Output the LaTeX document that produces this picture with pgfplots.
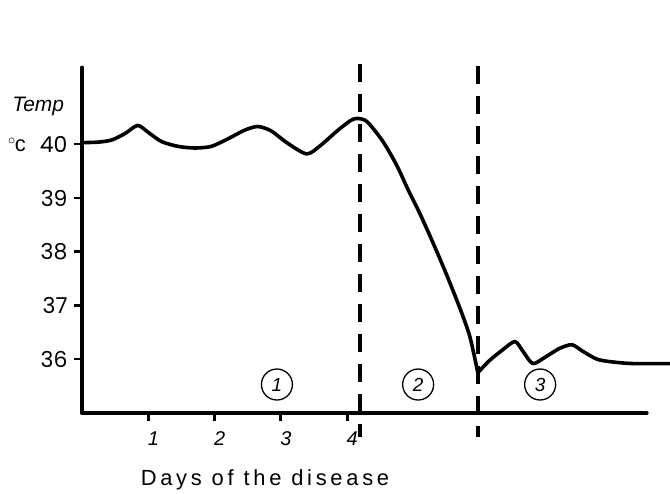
\documentclass[border=0pt]{standalone}
\usepackage{pgfplots}
\pgfplotsset{compat=1.18}
\usepackage{fontspec}
\setmainfont{Liberation Sans}
\newfontfamily\tickfont{Poppins}
\newfontfamily\spacedfont[LetterSpace=17]{Liberation Sans}
\begin{document}
\begin{tikzpicture}
\useasboundingbox (-82bp,-81bp) rectangle (588bp,413bp);
\begin{axis}[
  at={(0,0)}, anchor=south west,
  x=66.3bp, y=53.75bp,
  xmin=0, xmax=8.52, ymin=35, ymax=41.43,
  clip=false,
  axis lines=left,
  axis line style={-, line width=3.5bp, line cap=round},
  ytick={36,37,38,39,40},
  yticklabels={36,37,38,39,40},
  xtick={1,2,3,4},
  xticklabels={1,2,3,4},
  tick align=outside,
  major tick length=8bp,
  tick style={line width=2.5bp, black},
  x tick style={line width=3bp},
  yticklabel style={font=\fontsize{22}{24}\tickfont, xshift=-3bp},
  xticklabel style={font=\fontsize{20}{22}\selectfont\itshape, xshift=5bp, yshift=-7bp},
]
\addplot[black, line width=3.6bp, smooth, tension=0.45, line join=round, line cap=round] coordinates {
(0,40.03) (0.25,40.04) (0.45,40.08) (0.65,40.2) (0.84,40.35) (1.0,40.22) (1.2,40.05)
(1.45,39.96) (1.7,39.93) (1.95,39.96) (2.2,40.1) (2.45,40.26) (2.65,40.33) (2.85,40.25)
(3.1,40.02) (3.39,39.82) (3.6,39.98) (3.85,40.25) (4.05,40.44) (4.15,40.48) (4.3,40.42)
(4.54,40.05) (4.75,39.6) (4.92,39.15) (5.1,38.7) (5.3,38.15) (5.5,37.57) (5.7,36.95)
(5.85,36.42) (5.97,35.75)
};
\addplot[black, line width=3.6bp, smooth, tension=0.45, line join=round, line cap=round] coordinates {
(5.97,35.75) (6.15,35.98) (6.35,36.18) (6.53,36.33) (6.65,36.15) (6.8,35.92)
(7.0,36.05) (7.2,36.2) (7.39,36.27) (7.55,36.15) (7.77,36.0) (8.0,35.95) (8.31,35.92) (8.87,35.92)
};
\addplot[black, line width=4bp, dash pattern=on 18bp off 12bp] coordinates {(4.19,41.49) (4.19,34.55)};
\addplot[black, line width=4bp, dash pattern=on 18bp off 12bp] coordinates {(5.97,41.45) (5.97,34.55)};
\node[draw, circle, line width=1.3bp, minimum size=31bp, inner sep=0pt, font=\fontsize{19}{20}\selectfont\itshape] at (axis cs:2.94,35.53) {1};
\node[draw, circle, line width=1.3bp, minimum size=31bp, inner sep=0pt, font=\fontsize{19}{20}\selectfont\itshape] at (axis cs:5.07,35.53) {2};
\node[draw, circle, line width=1.3bp, minimum size=31bp, inner sep=0pt, font=\fontsize{19}{20}\selectfont\itshape] at (axis cs:6.91,35.53) {3};
\node[font=\fontsize{21}{22}\selectfont\itshape] at (axis cs:-0.66,40.71) {Temp};
\node[font=\fontsize{22}{24}\selectfont] at (axis cs:-0.98,39.99) {$^{\circ}$\kern-1pt c};
\node[font=\fontsize{22}{24}\selectfont\spacedfont] at (axis cs:2.76,33.75) {Days of the disease};
\end{axis}
\end{tikzpicture}
\end{document}
